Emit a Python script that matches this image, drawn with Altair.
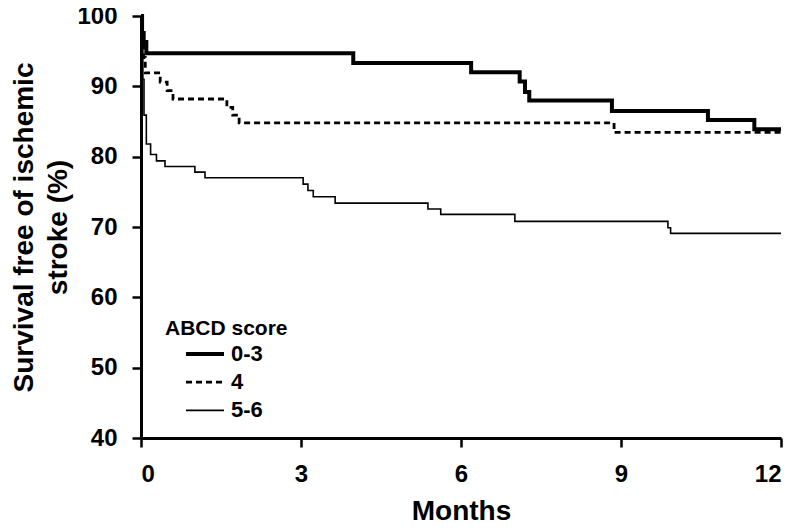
import altair as alt
import pandas as pd

# ABCD score 0-3
t_03 = [0, 0.02, 0.05, 0.1, 3.98, 6.19, 7.1, 7.2, 7.28, 8.83, 10.63, 11.5, 12.0]
s_03 = [100, 97.6, 96.3, 94.7, 93.3, 92.0, 90.7, 89.2, 88.0, 86.5, 85.2, 83.9, 83.9]

# ABCD score 4
t_4 = [0, 0.02, 0.05, 0.08, 0.36, 0.49, 0.6, 1.61, 1.72, 1.84, 8.87, 12.0]
s_4 = [100, 97.6, 94.1, 91.9, 90.6, 89.4, 88.2, 87.0, 85.9, 84.8, 83.45, 83.45]

# ABCD score 5-6
t_56 = [0, 0.015, 0.035, 0.056, 0.1, 0.18, 0.29, 0.45, 1.01, 1.2, 3.04, 3.13,
        3.23, 3.64, 5.38, 5.62, 7.01, 9.88, 9.93, 12.0]
s_56 = [100, 96, 91, 85.9, 81.8, 80.3, 79.4, 78.6, 77.8, 77.0, 76.1, 75.2,
        74.3, 73.4, 72.55, 71.8, 70.8, 69.9, 69.1, 69.1]

groups = ["0-3", "4", "5-6"]
x_ticks = [0, 3, 6, 9, 12]
y_ticks = [40, 50, 60, 70, 80, 90, 100]

rows = []
for g, ts, ss in zip(groups, [t_03, t_4, t_56], [s_03, s_4, s_56]):
    for i, (t, s) in enumerate(zip(ts, ss)):
        rows.append({"group": g, "month": t, "surv": s, "order": i})
df = pd.DataFrame(rows)

FONT = "Liberation Sans"

legend = alt.Legend(title="ABCD score", orient="none", legendX=24, legendY=302)

chart = alt.Chart(df).mark_line(interpolate="step-after", color="black").encode(
    x=alt.X("month:Q", scale=alt.Scale(domain=[0, 12], nice=False),
            axis=alt.Axis(values=x_ticks, title="Months", titleFontSize=28,
                          labelPadding=15, titlePadding=11)),
    y=alt.Y("surv:Q", scale=alt.Scale(domain=[40, 100], nice=False, zero=False),
            axis=alt.Axis(values=y_ticks,
                          title=["Survival free of ischemic", "stroke (%)"],
                          titleFontSize=28, titleLineHeight=34,
                          titleX=-109, titleY=211, titleAngle=270,
                          titleAlign="center", titleBaseline="alphabetic",
                          labelPadding=15)),
    strokeDash=alt.StrokeDash("group:N",
                              scale=alt.Scale(domain=groups, range=[[1, 0], [6, 4], [1, 0]]),
                              legend=legend),
    strokeWidth=alt.StrokeWidth("group:N",
                                scale=alt.Scale(domain=groups, range=[4, 1.6, 2]),
                                legend=legend),
    order="order:Q",
).properties(
    width=640, height=422,
    autosize=alt.AutoSizeParams(type="none"),
    padding={"left": 133, "top": 8, "right": 11, "bottom": 86},
).configure_view(stroke=None).configure_axis(
    grid=False,
    domainColor="black", domainWidth=3,
    tickColor="black", tickWidth=2.5, tickSize=9,
    labelFont=FONT, labelFontWeight="bold", labelFontSize=24, labelColor="black",
    titleFont=FONT, titleFontWeight="bold", titleColor="black",
).configure_legend(
    symbolType="stroke", symbolSize=1444, symbolStrokeColor="black",
    symbolOffset=19, padding=0, clipHeight=26,
    labelFont=FONT, labelFontWeight="bold", labelFontSize=22, labelColor="black",
    labelOffset=5,
    titleFont=FONT, titleFontWeight="bold", titleFontSize=21, titleColor="black",
    titlePadding=2, rowPadding=2.2,
)

chart.save("out.html", embed_options={"renderer": "svg", "actions": False})
